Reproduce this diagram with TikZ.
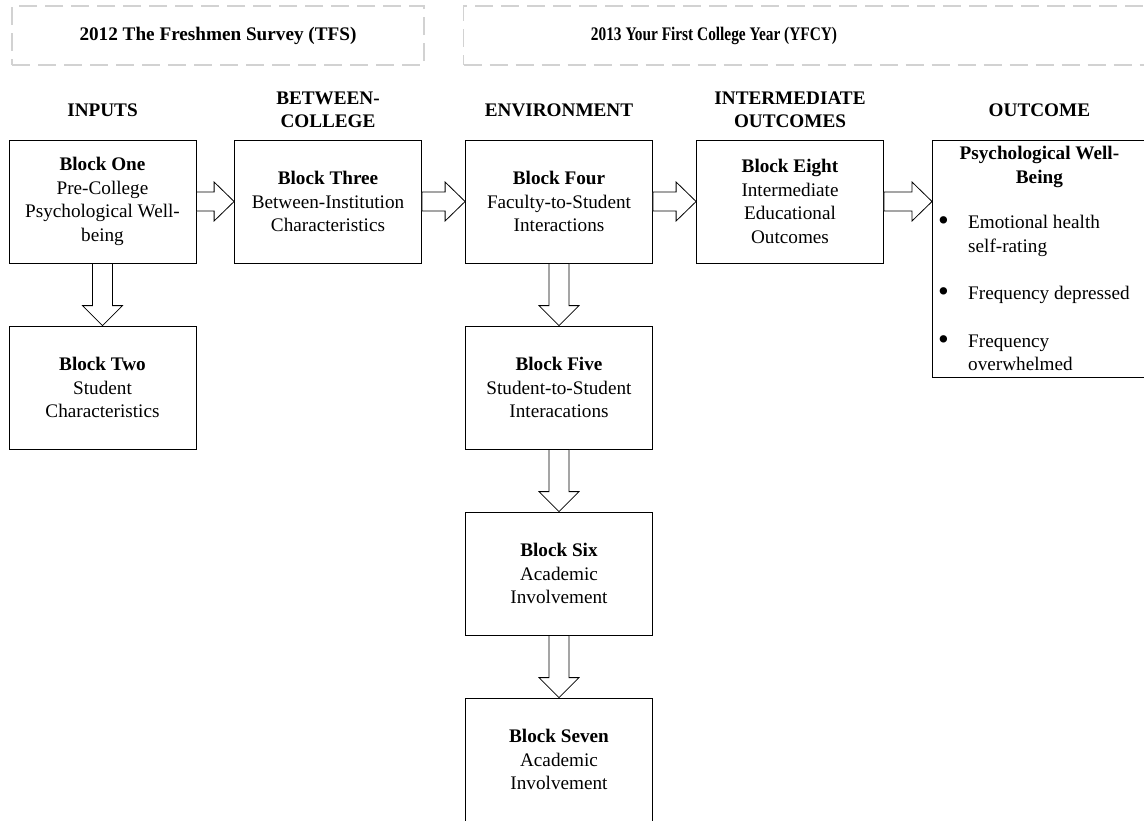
\documentclass[tikz,border=0pt]{standalone}
\usepackage{fontspec}
\setmainfont{Liberation Serif}
\usetikzlibrary{positioning, calc}
\newcommand{\bfont}{\fontsize{19.2}{23.5}\selectfont}
\newcommand{\bigdot}{\raisebox{-0.12em}{\scalebox{1.6}{\textbullet}}}
\tikzset{
    block/.style = {draw, line width=0.8pt, minimum width=187pt, minimum height=123pt, inner sep=2pt, align=center, font=\bfont},
    head/.style = {align=center, font=\bfont\bfseries, inner sep=0pt},
    survey/.style = {draw=gray!35, line width=1.3pt, dash pattern=on 18pt off 8pt, minimum height=59pt, font=\bfont\bfseries},
}
\tikzset{
    harrow/.style = {draw, line width=0.8pt, fill=white, to path={let \p1=(\tikztostart), \p2=(\tikztotarget) in
        (\x1,{\y1+9.5pt}) -- ({\x2-20pt},{\y1+9.5pt}) -- ({\x2-20pt},{\y1+19.5pt}) -- (\x2,\y1)
        -- ({\x2-20pt},{\y1-19.5pt}) -- ({\x2-20pt},{\y1-9.5pt}) -- (\x1,{\y1-9.5pt}) -- cycle}},
    varrow/.style = {draw, line width=0.8pt, fill=white, to path={let \p1=(\tikztostart), \p2=(\tikztotarget) in
        ({\x1-10pt},\y1) -- ({\x1-10pt},{\y2+20pt}) -- ({\x1-20pt},{\y2+20pt}) -- (\x1,\y2)
        -- ({\x1+20pt},{\y2+20pt}) -- ({\x1+10pt},{\y2+20pt}) -- ({\x1+10pt},\y1) -- cycle}},
}

\begin{document}
\begin{tikzpicture}[x=1pt, y=-1pt, every node/.style=on grid, node distance=186pt]
            \useasboundingbox (0,0) rectangle (1144,820);

            \node[survey, minimum width=412pt] (tfs) at (218,35.5) {2012 The Freshmen Survey (TFS)};
            \node[survey, minimum width=700pt, anchor=west] (yfcyframe) at (463,35.5) {};
            \node[font=\bfont\bfseries, xscale=0.8, transform shape] (yfcy) at (714,35.5) {2013 Your First College Year (YFCY)};

            \node[block] (one) at (102.5,201.5) {\textbf{Block One}\\Pre-College\\Psychological Well-\\being};
            \node[block, below=of one] (two) {\textbf{Block Two}\\Student\\Characteristics};
            \node[block, right=225.5pt of one] (three) {\textbf{Block Three}\\Between-Institution\\Characteristics};
            \node[block, right=231pt of three] (four) {\textbf{Block Four}\\Faculty-to-Student\\Interactions};
            \node[block, below=of four] (five) {\textbf{Block Five}\\Student-to-Student\\Interacations};
            \node[block, below=of five] (six) {\textbf{Block Six}\\Academic\\Involvement};
            \node[block, below=of six] (seven) {\textbf{Block Seven}\\Academic\\Involvement};
            \node[block, right=231pt of four] (eight) {\textbf{Block Eight}\\Intermediate\\Educational\\Outcomes};
            \node[block, minimum width=214pt, minimum height=237pt, anchor=north west] (outcome) at (932,140) {};
            \node[head, anchor=north, inner sep=6pt] (wbtitle) at (outcome.north) {Psychological Well-\\Being};
            \node[anchor=north west, inner sep=0pt, font=\bfont] (wblist) at (938,212)
                {\begin{tabular}{@{}p{30pt}@{}l@{}}
                 \bigdot & Emotional health\\ & self-rating\\[24pt]
                 \bigdot & Frequency depressed\\[24pt]
                 \bigdot & Frequency\\ & overwhelmed
                 \end{tabular}};

            \coordinate (hrow) at (0,110);
            \node[head] (hinputs) at (one |- hrow) {INPUTS};
            \node[head] (hbetween) at (three |- hrow) {BETWEEN-\\COLLEGE};
            \node[head] (henv) at (four |- hrow) {ENVIRONMENT};
            \node[head] (hinter) at (eight |- hrow) {INTERMEDIATE\\OUTCOMES};
            \node[head] (hout) at (outcome |- hrow) {OUTCOME};

            \draw[harrow] (one.east) to (three.west);
            \draw[harrow] (three.east) to (four.west);
            \draw[harrow] (four.east) to (eight.west);
            \draw[harrow] (eight.east) to (eight.east -| outcome.west);
            \draw[varrow] (one.south) to (two.north);
            \draw[varrow] (four.south) to (five.north);
            \draw[varrow] (five.south) to (six.north);
            \draw[varrow] (six.south) to (seven.north);
        \end{tikzpicture}
\end{document}
